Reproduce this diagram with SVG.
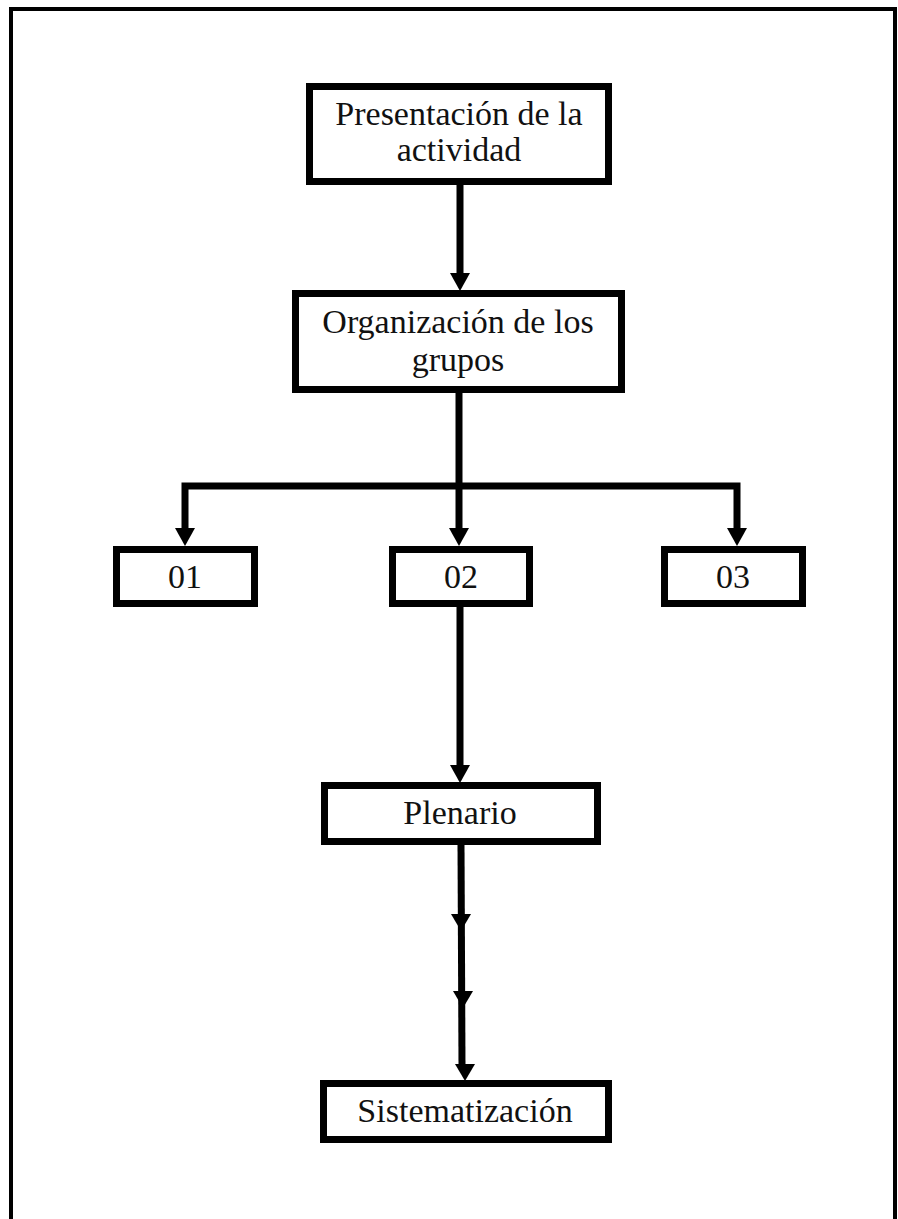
<svg xmlns="http://www.w3.org/2000/svg" width="898" height="1219" viewBox="0 0 898 1219">
<style>
.box{fill:#fff;stroke:#000;stroke-width:7}
.lbl{font-family:"Liberation Serif","Times New Roman",serif;font-size:34px;fill:#111;text-anchor:middle}
.con{fill:none;stroke:#000;stroke-width:7}
.head{fill:#000}
</style>
<rect x="0" y="0" width="898" height="1219" fill="#fff"/>
<path d="M11 1225 V9 H895 V1225" fill="none" stroke="#000" stroke-width="4"/>
<g id="connectors">
<line class="con" x1="460" y1="185" x2="460" y2="274"/>
<polygon class="head" points="450,273 470,273 460,291"/>
<line class="con" x1="459" y1="393" x2="459" y2="486"/>
<polyline class="con" points="185,530 185,486 737,486 737,530"/>
<line class="con" x1="459" y1="486" x2="459" y2="530"/>
<polygon class="head" points="175,528 195,528 185,546"/>
<polygon class="head" points="449,528 469,528 459,546"/>
<polygon class="head" points="727,528 747,528 737,546"/>
<line class="con" x1="460" y1="607" x2="460" y2="767"/>
<polygon class="head" points="450,765 470,765 460,783"/>
<line class="con" x1="461" y1="845" x2="462" y2="1066"/>
<polygon class="head" points="451,914 471,914 461,931"/>
<polygon class="head" points="453,991 473,991 463,1008"/>
<polygon class="head" points="455,1064 475,1064 465,1081"/>
</g>
<g id="n1"><rect class="box" x="309.5" y="86.5" width="299" height="95"/>
<text class="lbl" x="459" y="125">Presentación de la</text>
<text class="lbl" x="459" y="161">actividad</text></g>
<g id="n2"><rect class="box" x="295.5" y="293.5" width="326" height="96"/>
<text class="lbl" x="458" y="333">Organización de los</text>
<text class="lbl" x="458" y="371">grupos</text></g>
<g id="n3"><rect class="box" x="116.5" y="549.5" width="138" height="54"/>
<text class="lbl" x="185" y="588">01</text></g>
<g id="n4"><rect class="box" x="392.5" y="549.5" width="137" height="54"/>
<text class="lbl" x="461" y="588">02</text></g>
<g id="n5"><rect class="box" x="664.5" y="549.5" width="138" height="54"/>
<text class="lbl" x="733" y="588">03</text></g>
<g id="n6"><rect class="box" x="324.5" y="785.5" width="273" height="56"/>
<text class="lbl" x="460" y="824">Plenario</text></g>
<g id="n7"><rect class="box" x="323.5" y="1083.5" width="285" height="56"/>
<text class="lbl" x="465" y="1122">Sistematización</text></g>
</svg>
